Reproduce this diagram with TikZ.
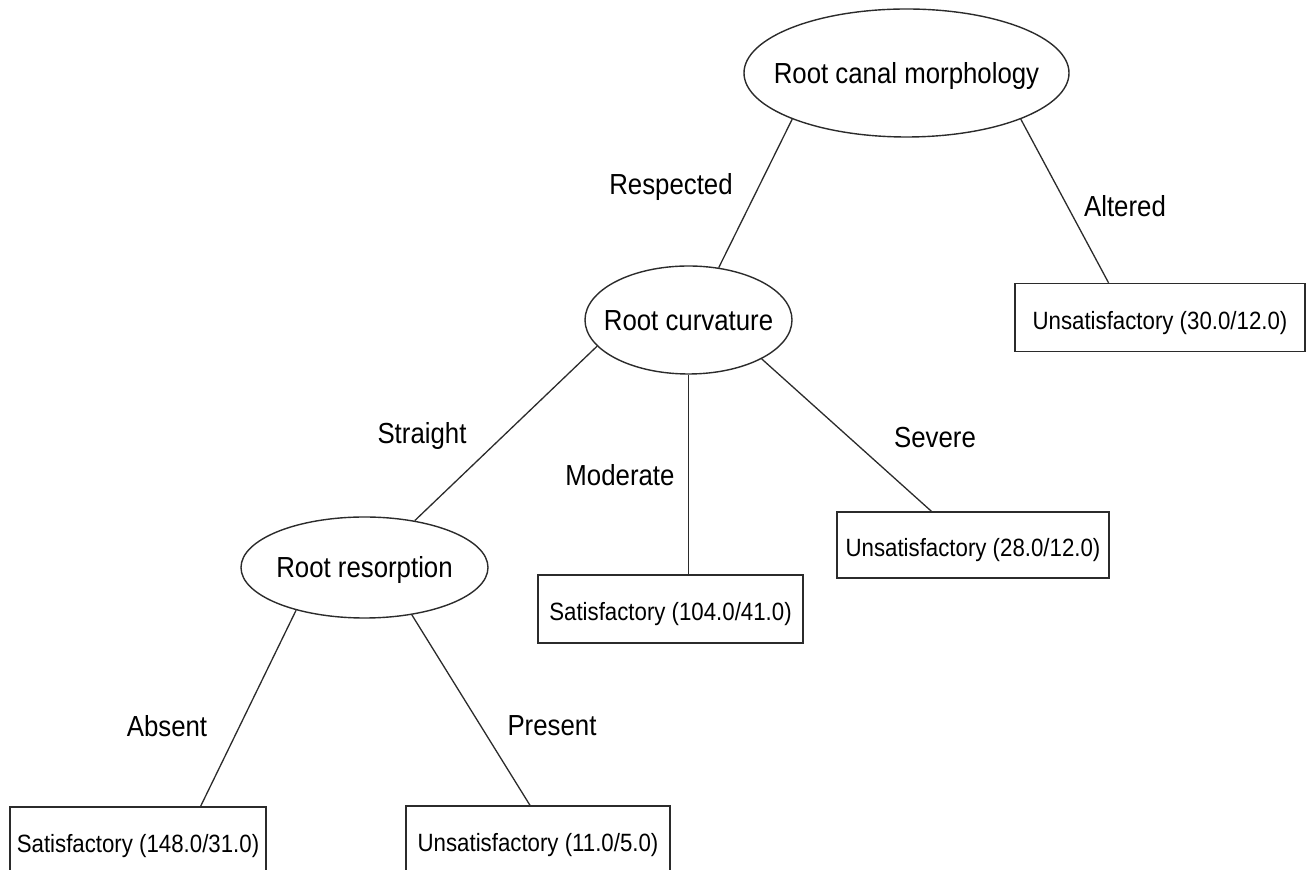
\documentclass[tikz,border=0pt]{standalone}
\usepackage{fontspec}
\setmainfont{Liberation Sans}[FakeStretch=0.89]
\usepackage{tikz}
\usetikzlibrary{shapes.geometric}
\definecolor{ink}{HTML}{2B2B2B}

\begin{document}
\begin{tikzpicture}[
   x=0.5pt,y=-0.5pt,
   font=\fontsize{14.5}{17}\selectfont,
   split/.style ={ellipse,draw=ink,line width=0.7pt,inner sep=0pt,text height=10.4pt,text depth=0pt},
   leaf/.style  ={draw=ink,line width=0.7pt,minimum height=34pt,inner sep=0pt,text height=12pt,text depth=0pt,font=\fontsize{12.5}{15}\selectfont},
   lbl/.style   ={inner sep=0pt},
   br/.style    ={draw=ink,line width=0.65pt}
  ]
  \useasboundingbox (0,0) rectangle (1313,870);

  % decision nodes
  \node[split,minimum width=162.5pt,minimum height=64pt] (morph) at (906.5,73) {\makebox[0pt]{Root canal morphology}};
  \node[split,minimum width=103.5pt,minimum height=54pt] (curv) at (688.5,320) {\makebox[0pt]{Root curvature}};
  \node[split,minimum width=123.5pt,minimum height=50.5pt] (reso) at (364.5,567.5) {\makebox[0pt]{Root resorption}};

  % leaves
  \node[leaf,minimum width=145pt] (alt) at (1160,317.5) {Unsatisfactory (30.0/12.0)};
  \node[leaf,minimum width=136pt,minimum height=33pt] (sev) at (973,545) {Unsatisfactory (28.0/12.0)};
  \node[leaf,minimum width=132.5pt] (mod) at (670.5,609) {Satisfactory (104.0/41.0)};
  \node[leaf,minimum width=128pt] (abs) at (138,841) {Satisfactory (148.0/31.0)};
  \node[leaf,minimum width=132pt] (pre) at (538,840) {Unsatisfactory (11.0/5.0)};

  % branches
  \draw[br] (morph.202.7) -- (curv.60.9);
  \draw[br] (morph.338.7) -- (alt.146.4);
  \draw[br] (curv.196.3) -- (reso.43.2);
  \draw[br] (curv.south) -- (curv.south |- mod.north);
  \draw[br] (curv.332.7) -- (sev.141.2);
  \draw[br] (reso.212.2) -- (abs.29.1);
  \draw[br] (reso.315.6) -- (pre.103.2);

  % branch labels
  \node[lbl] (l1) at (671,187) {Respected};
  \node[lbl] (l2) at (1125,206) {Altered};
  \node[lbl] (l3) at (422,436) {Straight};
  \node[lbl] (l4) at (620,475) {Moderate};
  \node[lbl] (l5) at (935,438) {Severe};
  \node[lbl] (l6) at (167,726) {Absent};
  \node[lbl] (l7) at (552,726) {Present};
\end{tikzpicture}
\end{document}
